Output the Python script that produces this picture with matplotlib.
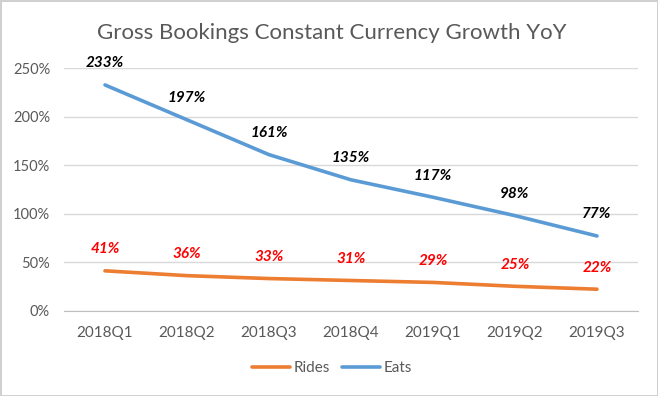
import matplotlib.pyplot as plt
from matplotlib.ticker import PercentFormatter

plt.rcParams['font.family'] = ['Lato', 'DejaVu Sans']

quarters = ['2018Q1', '2018Q2', '2018Q3', '2018Q4', '2019Q1', '2019Q2', '2019Q3']
rides = [41, 36, 33, 31, 29, 25, 22]
eats = [233, 197, 161, 135, 117, 98, 77]

fig = plt.figure(figsize=(6.58, 3.96), dpi=100)
fig.patch.set_edgecolor('#d0d0d0')
fig.patch.set_linewidth(2)

# plot area in figure pixels
ax = fig.add_axes([64 / 658, 85.5 / 396, 574 / 658, 242 / 396])

x = range(len(quarters))
ax.plot(x, rides, color='#ED7D31', lw=2.6, solid_capstyle='round', label='Rides')
ax.plot(x, eats, color='#5B9BD5', lw=2.6, solid_capstyle='round', label='Eats')

# data labels
for i, v in enumerate(eats):
    ax.annotate(f'{v}%', (i, v), xytext=(0, 15.5), textcoords='offset points',
                ha='center', va='center', fontsize=11, fontweight='bold',
                fontstyle='italic', color='black')
for i, v in enumerate(rides):
    ax.annotate(f'{v}%', (i, v), xytext=(0, 15.5), textcoords='offset points',
                ha='center', va='center', fontsize=11, fontweight='bold',
                fontstyle='italic', color='#FF0000')

ax.set_xlim(-0.5, len(quarters) - 0.5)
ax.set_ylim(0, 250)
ax.set_yticks(range(0, 251, 50))
ax.yaxis.set_major_formatter(PercentFormatter(decimals=0))
ax.set_xticks(list(x))
ax.set_xticklabels(quarters)
ax.tick_params(axis='both', length=0, labelcolor='#595959')
ax.tick_params(axis='x', pad=11, labelsize=11)
ax.tick_params(axis='y', pad=10, labelsize=10.5)

ax.grid(axis='y', color='#D9D9D9', lw=1)
ax.set_axisbelow(True)
for s in ['top', 'right', 'left']:
    ax.spines[s].set_visible(False)
ax.spines['bottom'].set_color('#BFBFBF')

fig.text(332 / 658, 1 - 33 / 396, 'Gross Bookings Constant Currency Growth YoY',
         ha='center', va='center', fontsize=16, color='#595959')

fig.legend(loc='center', bbox_to_anchor=(332 / 658, 1 - 368 / 396), ncol=2,
           frameon=False, fontsize=11, labelcolor='#595959', handlelength=2.5,
           handletextpad=0.2, columnspacing=0.8)

plt.savefig('out.png', dpi=100)
plt.close()
